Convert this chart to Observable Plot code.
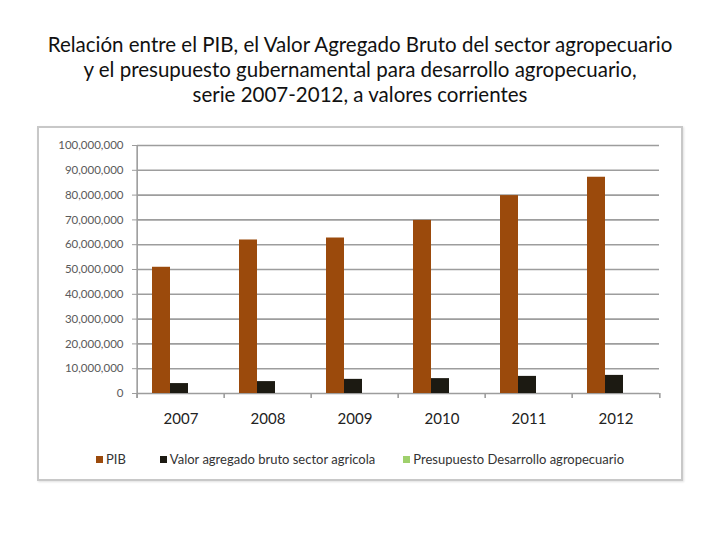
<!DOCTYPE html>
<html>
<head>
<meta charset="utf-8">
<script src="https://cdn.jsdelivr.net/npm/d3@7"></script>
<script src="https://cdn.jsdelivr.net/npm/@observablehq/plot@0.6"></script>
<style>
  body { margin: 0; width: 720px; height: 540px; background: #fff; font-family: Lato, "Open Sans", sans-serif; position: relative; overflow: hidden; }
  #title { position: absolute; top: 32px; left: 0; width: 720px; text-align: center; font-size: 20.5px; line-height: 25px; color: #111; }
  #box { position: absolute; left: 37px; top: 126px; width: 642px; height: 351px; border: 2px solid #c8c8c8; box-shadow: 1px 1px 2px #e0e0e0; background: #fff; }
  #legend { display: flex; justify-content: center; align-items: center; margin-top: 12px; height: 14px; font-size: 13px; color: #333; }
  #legend .item { display: flex; align-items: center; gap: 3px; }
  #legend .item + .item { margin-left: 28px; }
  #legend .item:nth-child(2) { margin-left: 34px; }
  #legend .sw { width: 7px; height: 7px; display: inline-block; }
</style>
</head>
<body>
<div id="title">Relación entre el PIB, el Valor Agregado Bruto del sector agropecuario<br>y el presupuesto gubernamental para desarrollo agropecuario,<br>serie 2007-2012, a valores corrientes</div>
<div id="box"><div id="chart"></div><div id="legend"></div></div>
<script>
const years = ["2007", "2008", "2009", "2010", "2011", "2012"];
const series = ["PIB", "Valor agregado bruto sector agricola", "Presupuesto Desarrollo agropecuario"];
const pib = [50900000, 61900000, 62700000, 69800000, 79800000, 87200000];
const valorAgregado = [4000000, 4800000, 5700000, 6000000, 6900000, 7300000];
const presupuesto = [0, 0, 0, 0, 0, 0];
const yTicks = [0, 10000000, 20000000, 30000000, 40000000, 50000000, 60000000, 70000000, 80000000, 90000000, 100000000];
const colors = ["#9b4a0c", "#1c1a12", "#9fd06c"];

const table = [];
years.forEach((yr, i) => {
  table.push({year: yr, series: series[0], value: pib[i]});
  table.push({year: yr, series: series[1], value: valorAgregado[i]});
  table.push({year: yr, series: series[2], value: presupuesto[i]});
});

const W = 642, H = 312, ML = 96, MR = 20, MT = 17, MB = 47;
const fw = (W - ML - MR) / years.length;
const grid = "#9d9d9d";

const chart = Plot.plot({
  width: W, height: H,
  marginLeft: ML, marginRight: MR, marginTop: MT, marginBottom: MB,
  style: {fontFamily: "Lato, 'Open Sans', sans-serif", background: "transparent"},
  fx: {domain: years, padding: 0, label: null},
  x: {domain: series, paddingInner: 0, paddingOuter: 0.8, align: 0.45, axis: null},
  y: {domain: [0, 100000000], label: null},
  color: {domain: series, range: colors},
  marks: [
    Plot.ruleY(yTicks, {stroke: grid, strokeWidth: 1.6}),
    Plot.axisY({ticks: yTicks, tickFormat: d3.format(","), tickSize: 5, tickPadding: 9, fontSize: 11.5, fill: "#5a5a5a", stroke: grid, label: null}),
    Plot.axisFx({anchor: "bottom", tickSize: 0, tickPadding: 20, fontSize: 15, fill: "#222", label: null}),
    Plot.ruleX(years, {fx: d => d, x: null, dx: -fw / 2, y1: 0, y2: -2000000, stroke: grid, strokeWidth: 1.6}),
    Plot.ruleX(years.slice(-1), {fx: d => d, x: null, dx: fw / 2, y1: 0, y2: -2000000, stroke: grid, strokeWidth: 1.6}),
    Plot.ruleX(years.slice(0, 1), {fx: d => d, x: null, dx: -fw / 2, y1: -2000000, y2: 100000000, stroke: grid, strokeWidth: 1.6}),
    Plot.barY(table, {fx: "year", x: "series", y: "value", fill: "series"})
  ]
});
document.getElementById("chart").appendChild(chart);

const legend = document.getElementById("legend");
series.forEach((s, i) => {
  const item = document.createElement("div");
  item.className = "item";
  const sw = document.createElement("span");
  sw.className = "sw";
  sw.style.background = colors[i];
  const label = document.createElement("span");
  label.textContent = s;
  item.appendChild(sw);
  item.appendChild(label);
  legend.appendChild(item);
});
</script>
</body>
</html>
